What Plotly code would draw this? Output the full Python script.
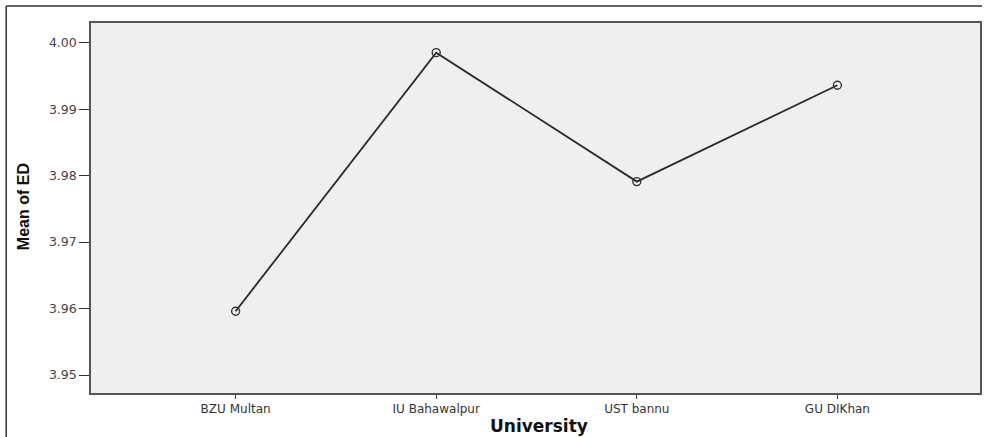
import plotly.graph_objects as go

# Mean ED score per university
universities = ["BZU Multan", "IU Bahawalpur", "UST bannu", "GU DIKhan"]
mean_ed = [3.9596, 3.9985, 3.9791, 3.9936]

y_ticks = [3.95, 3.96, 3.97, 3.98, 3.99, 4.00]

W, H = 984, 437
ML, MR, MT, MB = 91, 2, 23, 44
PW, PH = W - ML - MR, H - MT - MB

fig = go.Figure()
fig.add_trace(go.Scatter(
    x=list(range(len(universities))),
    y=mean_ed,
    mode="lines+markers",
    line=dict(color="#2a2a2a", width=1.8),
    marker=dict(symbol="circle-open", size=8, color="#333333", line=dict(width=1.4)),
    hoverinfo="skip",
))

axis_col = "#555555"
tick_font = "DejaVu Sans, Verdana, sans-serif"
fig.update_layout(
    width=W, height=H,
    margin=dict(l=ML, r=MR, t=MT, b=MB),
    paper_bgcolor="white",
    plot_bgcolor="#efefef",
    showlegend=False,
    font=dict(family=tick_font, color="#333333"),
    xaxis=dict(
        tickmode="array",
        tickvals=list(range(len(universities))),
        ticktext=universities,
        range=[-0.721, 3.711],
        showgrid=False, zeroline=False,
        showline=True, linecolor=axis_col, linewidth=1.5, mirror=True,
        ticks="outside", ticklen=4, tickcolor="#333333",
        tickfont=dict(size=12, color="#333333", family=tick_font),
    ),
    yaxis=dict(
        tickmode="array",
        tickvals=y_ticks,
        ticktext=[f"{v:.2f}" for v in y_ticks],
        range=[3.9473, 4.00296],
        showgrid=False, zeroline=False,
        showline=True, linecolor=axis_col, linewidth=1.5, mirror=True,
        ticks="outside", ticklen=10, tickcolor="#333333",
        tickfont=dict(size=12.5, color="#444444", family=tick_font),
    ),
)

# Axis titles
fig.add_annotation(
    text="<b>University</b>", xref="paper", yref="paper",
    x=(540 - ML) / PW, y=-(426 - MT - PH) / PH * 0 - (426 - (MT + PH)) / PH,
    xanchor="center", yanchor="middle", showarrow=False,
    font=dict(size=17, color="#111111", family=tick_font),
)
fig.add_annotation(
    text="<b>Mean of ED</b>", xref="paper", yref="paper",
    x=(23 - ML) / PW, y=1 - (207 - MT) / PH,
    xanchor="center", yanchor="middle", showarrow=False, textangle=-90,
    font=dict(size=16, color="#111111", family="Liberation Sans Narrow, Arial Narrow, sans-serif"),
)

# Outer frame lines (top and left)
x0 = (6 - ML) / PW
y_top = 1 + (MT - 6) / PH
y_bot = -(MB) / PH
fig.add_shape(type="line", xref="paper", yref="paper", x0=x0, x1=1 + MR / PW, y0=y_top, y1=y_top,
              line=dict(color="#333333", width=1.5))
fig.add_shape(type="line", xref="paper", yref="paper", x0=x0, x1=x0, y0=y_bot, y1=y_top,
              line=dict(color="#333333", width=1.5))

fig.write_html("out.html")
